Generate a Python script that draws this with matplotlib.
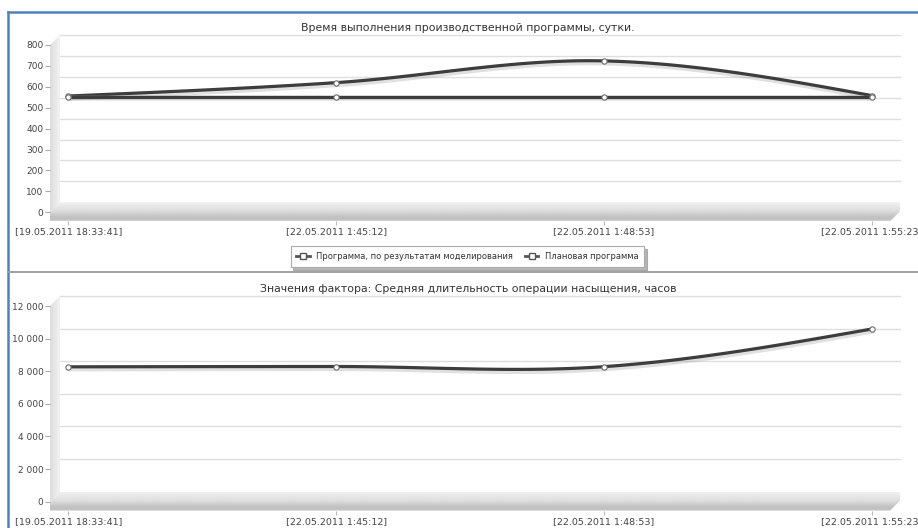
import numpy as np
import matplotlib.pyplot as plt
import matplotlib.patheffects as pe
from matplotlib.lines import Line2D
from matplotlib.patches import Polygon
from matplotlib.ticker import FuncFormatter

plt.rcParams['font.family'] = ['DejaVu Sans']

dates = ['[19.05.2011 18:33:41]', '[22.05.2011 1:45:12]',
         '[22.05.2011 1:48:53]', '[22.05.2011 1:55:23]']
prog_model = [556, 620, 724, 558]      # программа, по результатам моделирования
prog_plan = [553, 553, 553, 553]       # плановая программа
factor = [8270, 8290, 8280, 10590]     # средняя длительность операции насыщения

title1 = 'Время выполнения производственной программы, сутки.'
title2 = 'Значения фактора: Средняя длительность операции насыщения, часов'
names = ['Программа, по результатам моделирования', 'Плановая программа']

W, H = 918, 528
D = 10      # глубина "3d" коробки, px
SLAB = 9    # толщина пола, px
LINE = '#3d3d3d'


def smooth(y, n=40):
    # кривая Эрмита через точки (как сглаженная линия в исходном графике)
    y = np.asarray(y, float)
    k = len(y)
    m = np.zeros(k)
    m[1:-1] = (y[2:] - y[:-2]) / 2
    m[0] = (3 * (y[1] - y[0]) - m[1]) / 2
    m[-1] = (3 * (y[-1] - y[-2]) - m[-2]) / 2
    t = np.linspace(0, 1, n)
    h00 = 2 * t**3 - 3 * t**2 + 1
    h10 = t**3 - 2 * t**2 + t
    h01 = -2 * t**3 + 3 * t**2
    h11 = t**3 - t**2
    xs, ys = [], []
    for i in range(k - 1):
        xs.append(i + t)
        ys.append(h00 * y[i] + h10 * m[i] + h01 * y[i + 1] + h11 * m[i + 1])
    return np.concatenate(xs), np.concatenate(ys)


fig = plt.figure(figsize=(W / 100, H / 100), dpi=100)
bg = fig.add_axes([0, 0, 1, 1])
bg.axis('off')


def make_ax(top, bottom):
    return fig.add_axes([50 / W, 1 - bottom / H, 840 / W, (bottom - top) / H])


ax1 = make_ax(45, 212.3)
ax2 = make_ax(306, 501.7)
ax1.set_ylim(0, 800)
ax2.set_ylim(0, 12000)


def px(ax, x, y):
    a, b = ax.transData.transform((x, y))
    return a, H - b


def grad_fill(poly, img, extent):
    patch = Polygon(poly, closed=True, facecolor='none', edgecolor='none')
    bg.add_patch(patch)
    im = bg.imshow(img, extent=extent, aspect='auto', interpolation='bilinear',
                   cmap='gray', vmin=0, vmax=1)
    im.set_clip_path(patch)


def decorate(ax, ymax, step):
    x0, x1 = -0.068, 3.068
    ax.set_xlim(x0, x1)
    ax.patch.set_visible(False)
    for s in ['top', 'right', 'left']:
        ax.spines[s].set_visible(False)
    ax.spines['bottom'].set_position(('outward', SLAB * 0.72))
    ax.spines['bottom'].set_color('none')
    ax.set_xticks(range(len(dates)))
    ax.set_xticklabels(dates)
    ax.tick_params(axis='x', length=3, color='#bbbbbb', pad=1.5,
                   labelsize=6.8, labelcolor='#444444')
    ax.set_yticks(np.arange(0, ymax + 1, step))
    ax.tick_params(axis='y', length=3.6, color='#aaaaaa', pad=1,
                   labelsize=6.5, labelcolor='#444444')
    ax.yaxis.set_major_formatter(FuncFormatter(lambda v, p: f'{v:,.0f}'.replace(',', ' ')))

    fl = px(ax, x0, 0)
    fr = px(ax, x1, 0)
    tl = px(ax, x0, ymax)
    # сетка на задней стенке
    for v in np.arange(step, ymax + 1, step):
        a, b = px(ax, x0, v)
        c, _ = px(ax, x1, v)
        bg.plot([a + D, c + D], [b - D, b - D], color='#dedede', lw=1)
    # левая стенка
    wall = [fl, tl, (tl[0] + D, tl[1] - D), (fl[0] + D, fl[1] - D)]
    g = np.linspace(0.86, 0.95, 20)[None, :]
    grad_fill(wall, g, (fl[0], fl[0] + D, fl[1], tl[1] - D))
    # пол
    floor = [(fl[0], fl[1]), (fl[0] + D, fl[1] - D), (fr[0] + D, fr[1] - D),
             (fr[0] + D, fr[1] - D + SLAB), (fr[0], fr[1] + SLAB), (fl[0], fl[1] + SLAB)]
    g = np.interp(np.linspace(0, 1, 40), [0, 0.45, 0.75, 0.92, 1],
                  [0.94, 0.87, 0.77, 0.75, 0.83])[:, None]
    grad_fill(floor, g, (fl[0], fr[0] + D, fl[1] + SLAB, fl[1] - D))


decorate(ax1, 800, 100)
decorate(ax2, 12000, 2000)
bg.set_xlim(0, W)
bg.set_ylim(H, 0)

shadow = [pe.SimpleLineShadow(offset=(0.5, -1.3), shadow_color='#999999', alpha=0.3,
                              linewidth=4), pe.Normal()]
x = np.arange(len(dates))
for ax, series in [(ax1, [prog_model, prog_plan]), (ax2, [factor])]:
    for s in series:
        sx, sy = smooth(s)
        ax.plot(sx, sy, color=LINE, lw=2.3, solid_capstyle='round',
                path_effects=shadow, clip_on=False)
    for s in series:
        ax.plot(x, s, ls='none', marker='o', ms=3.8, mfc='white', mec='#6a6a6a',
                mew=0.8, clip_on=False, zorder=5)

fig.text(468 / W, 1 - 28 / H, title1, ha='center', va='center', fontsize=7.8, color='#333333')
fig.text(468 / W, 1 - 289 / H, title2, ha='center', va='center', fontsize=7.8, color='#333333')

handles = [Line2D([], [], color='#555555', lw=2, marker='s', ms=5, mfc='white', mec='#555555', mew=1)
           for _ in names]
leg = fig.legend(handles, names, loc='upper center', bbox_to_anchor=(467.5 / W, 1 - 242 / H),
                 ncol=2, fontsize=6, frameon=True, fancybox=False,
                 shadow={'color': '#888888', 'alpha': 0.6}, edgecolor='#aaaaaa',
                 handlelength=1.6, columnspacing=1.4, borderpad=0.7, handletextpad=0.8)
leg.get_frame().set_linewidth(0.8)
for t in leg.get_texts():
    t.set_color('#333333')

# рамки страницы
bg.plot([8, W], [12, 12], color='#4f81bd', lw=1.8)
bg.plot([8, 8], [12, H], color='#4f81bd', lw=1.8)
bg.plot([8, W], [272, 272], color='#a0a0a0', lw=1.4)

fig.savefig('out.png', dpi=100)
